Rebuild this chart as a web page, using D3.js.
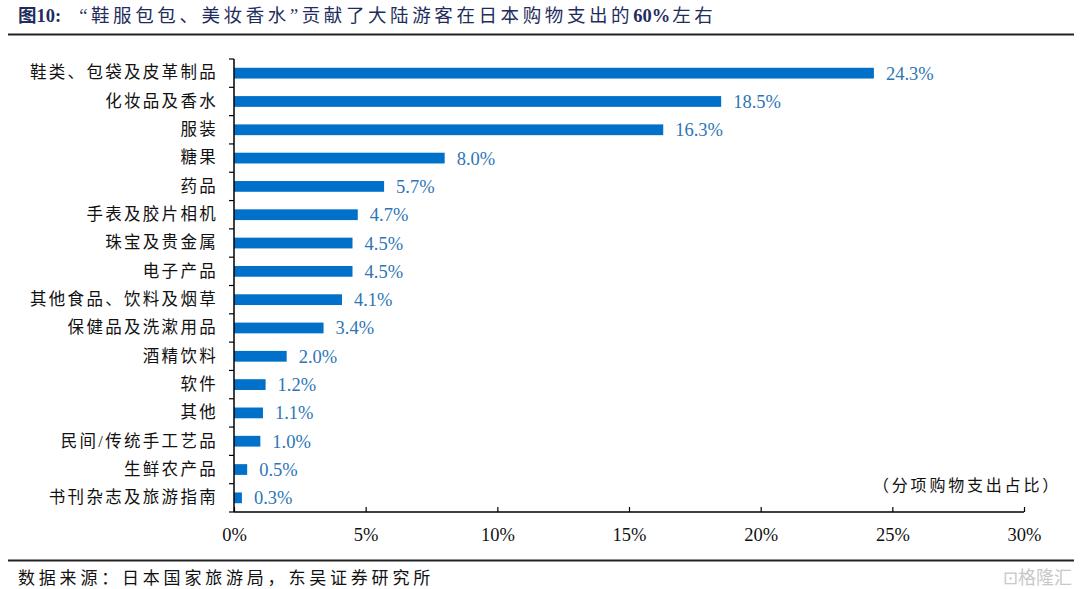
<!DOCTYPE html>
<html><head><meta charset="utf-8">
<script src="https://cdn.jsdelivr.net/npm/d3@7/dist/d3.min.js"></script>
<style>body{margin:0;background:#fff;} svg{display:block;}</style>
</head><body>
<svg id="c" width="1080" height="589"></svg>
<script>
const categories = ["鞋类、包袋及皮革制品","化妆品及香水","服装","糖果","药品","手表及胶片相机","珠宝及贵金属","电子产品","其他食品、饮料及烟草","保健品及洗漱用品","酒精饮料","软件","其他","民间/传统手工艺品","生鲜农产品","书刊杂志及旅游指南"];
const values = [24.3,18.5,16.3,8.0,5.7,4.7,4.5,4.5,4.1,3.4,2.0,1.2,1.1,1.0,0.5,0.3];
const xTicks = [0,5,10,15,20,25,30];
const titleParts = ["“鞋服包包、美妆香水”贡献了大陆游客在日本购物支出的","60%","左右"];

const svg = d3.select("#c");
const serif = "'Liberation Serif','Noto Sans CJK SC',serif";
const pL = 234, pR = 1024, pT = 59, pB = 512;
const x = d3.scaleLinear().domain([0,30]).range([pL,pR]);
const y = d3.scaleBand().domain(categories).range([pT,pB]).paddingInner(0.62).paddingOuter(0.31);

// title
const t = svg.append("text").attr("x",18).attr("y",22).attr("font-family",serif).attr("font-size",18.5).attr("fill","#1f2d5c");
t.append("tspan").attr("font-weight","bold").text("图10:");
t.append("tspan").attr("dx",18).attr("letter-spacing",3.6).text(titleParts[0]);
t.append("tspan").attr("font-weight","bold").attr("letter-spacing",0).text(titleParts[1]);
t.append("tspan").attr("dx",2).attr("letter-spacing",3.6).text(titleParts[2]);
svg.append("line").attr("x1",8).attr("x2",1074).attr("y1",34.5).attr("y2",34.5).attr("stroke","#222").attr("stroke-width",2);

// bars
svg.selectAll("rect.bar").data(values).enter().append("rect")
  .attr("x",x(0)).attr("y",(d,i)=>y(categories[i])).attr("width",d=>x(d)-x(0)).attr("height",y.bandwidth())
  .attr("fill","#0070c8");
svg.selectAll("text.val").data(values).enter().append("text")
  .attr("x",d=>x(d)+12).attr("y",(d,i)=>y(categories[i])+y.bandwidth()/2+6.5)
  .attr("font-family",serif).attr("font-size",18.5).attr("fill","#2e75b6").text(d=>d.toFixed(1)+"%");

// y axis
const yAxis = d3.axisLeft(y).tickSize(0).tickPadding(16);
const ga = svg.append("g").attr("transform",`translate(${pL},0)`).call(yAxis);
ga.select(".domain").remove();
ga.selectAll("text").attr("font-family",serif).attr("font-size",16.5).attr("letter-spacing",2.3).attr("fill","#111");
const step = (pB-pT)/categories.length;
svg.append("line").attr("x1",pL).attr("x2",pL).attr("y1",pT).attr("y2",pB).attr("stroke","#000").attr("stroke-width",1.5);
svg.selectAll("line.yt").data(d3.range(categories.length+1)).enter().append("line")
  .attr("x1",pL-5).attr("x2",pL).attr("y1",i=>pT+i*step).attr("y2",i=>pT+i*step).attr("stroke","#000").attr("stroke-width",1.2);

// x axis
const xAxis = d3.axisBottom(x).tickValues(xTicks).tickSize(-5).tickPadding(16).tickFormat(d=>d+"%");
const gx = svg.append("g").attr("transform",`translate(0,${pB})`).call(xAxis);
gx.select(".domain").attr("stroke","#000").attr("stroke-width",1.5).attr("d",`M${pL},0H${pR}`);
gx.selectAll(".tick line").attr("stroke","#000").attr("stroke-width",1.2);
gx.selectAll("text").attr("font-family",serif).attr("font-size",18.5).attr("fill","#111");

// note
svg.append("text").attr("x",1061).attr("y",491).attr("text-anchor","end").attr("font-family",serif).attr("font-size",16).attr("letter-spacing",2.8).attr("fill","#111").text("（分项购物支出占比）");

// bottom
svg.append("line").attr("x1",8).attr("x2",1074).attr("y1",560.5).attr("y2",560.5).attr("stroke","#222").attr("stroke-width",2);
svg.append("text").attr("x",18).attr("y",584).attr("font-family",serif).attr("font-size",17).attr("letter-spacing",3.8).attr("fill","#111").text("数据来源：日本国家旅游局，东吴证券研究所");
svg.append("text").attr("x",1072).attr("y",584).attr("text-anchor","end").attr("font-family","'Noto Sans CJK SC',sans-serif").attr("font-size",18).attr("fill","#c8c8c8").text("⊡格隆汇");
</script>
</body></html>
